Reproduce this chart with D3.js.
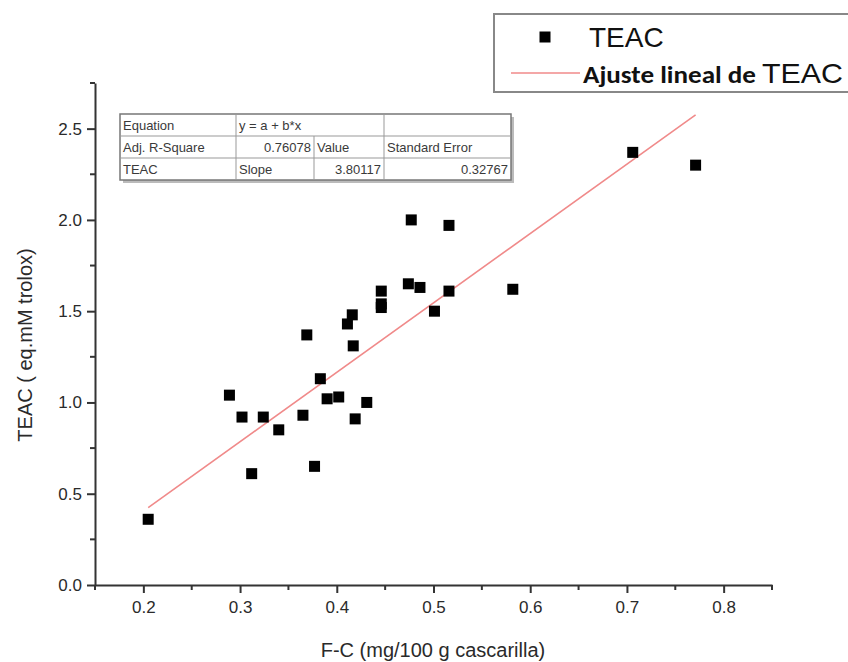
<!DOCTYPE html>
<html>
<head>
<meta charset="utf-8">
<script src="https://cdn.jsdelivr.net/npm/d3@7"></script>
<style>
  body { margin: 0; background: #fff; }
  text { font-family: Arial, "Liberation Sans", sans-serif; }
</style>
</head>
<body>
<div id="chart"></div>
<script>
// Data - - - - - - - - - - - - - - - - - - - - -
var fcValues = [0.205, 0.289, 0.302, 0.312, 0.324, 0.340, 0.365, 0.369, 0.377, 0.383,
                0.390, 0.402, 0.411, 0.416, 0.417, 0.419, 0.431, 0.446, 0.446, 0.446,
                0.474, 0.477, 0.486, 0.501, 0.516, 0.516, 0.582, 0.706, 0.771]
var teacValues = [0.36, 1.04, 0.92, 0.61, 0.92, 0.85, 0.93, 1.37, 0.65, 1.13,
                  1.02, 1.03, 1.43, 1.48, 1.31, 0.91, 1.00, 1.61, 1.54, 1.52,
                  1.65, 2.00, 1.63, 1.50, 1.97, 1.61, 1.62, 2.37, 2.30]
var fitIntercept = -0.355
  , fitSlope = 3.80117
var xTicks = [0.2, 0.3, 0.4, 0.5, 0.6, 0.7, 0.8]
var yTicks = [0.0, 0.5, 1.0, 1.5, 2.0, 2.5]
var tableRows = [
  ["Equation", "y = a + b*x", "", ""],
  ["Adj. R-Square", "0.76078", "Value", "Standard Error"],
  ["TEAC", "Slope", "3.80117", "0.32767"]
]

// Canvas - - - - - - - - - - - - - - - - - - - - - - - - - - - - - - -
var svgWidth = 848
  , svgHeight = 662
  , plot = {left: 95, right: 772, top: 83, bottom: 585}
  , symbolSize = 11

var svg = d3.select("#chart").append("svg")
    .attr("width", svgWidth)
    .attr("height", svgHeight)

var x = d3.scaleLinear().domain([0.15, 0.85]).range([plot.left, plot.right])
var y = d3.scaleLinear().domain([0, 2.75]).range([plot.bottom, plot.top])

var axisColor = "#333"
  , textColor = "#2a2a2a"

// Axes with major + minor ticks
var xMinor = d3.range(0.15, 0.851, 0.05).filter(v => Math.abs(v * 10 - Math.round(v * 10)) > 0.01)
var yMinor = d3.range(0.25, 2.76, 0.5)

var xAxis = svg.append("g")
    .attr("transform", "translate(0," + plot.bottom + ")")
    .call(d3.axisBottom(x).tickValues(xTicks).tickFormat(d3.format(".1f")).tickSize(8).tickSizeOuter(0).tickPadding(8))
xAxis.selectAll("g.minor")
    .data(xMinor).enter()
    .append("line")
      .attr("x1", d => x(d)).attr("x2", d => x(d))
      .attr("y1", 0).attr("y2", 5)

var yAxis = svg.append("g")
    .attr("transform", "translate(" + plot.left + ",0)")
    .call(d3.axisLeft(y).tickValues(yTicks).tickFormat(d3.format(".1f")).tickSize(8).tickSizeOuter(0).tickPadding(5))
yAxis.selectAll("g.minor")
    .data(yMinor).enter()
    .append("line")
      .attr("y1", d => y(d)).attr("y2", d => y(d))
      .attr("x1", 0).attr("x2", -5)

svg.selectAll(".domain, line")
    .attr("stroke", axisColor)
    .attr("stroke-width", 2)
svg.selectAll(".tick text")
    .attr("fill", textColor)
    .style("font-size", "17px")

// Axis titles
svg.append("text")
    .attr("x", 433).attr("y", 657)
    .attr("text-anchor", "middle")
    .attr("fill", textColor)
    .style("font-size", "20px")
    .text("F-C (mg/100 g cascarilla)")

svg.append("text")
    .attr("transform", "translate(32,345) rotate(-90)")
    .attr("text-anchor", "middle")
    .attr("fill", textColor)
    .style("font-size", "20px")
    .text("TEAC ( eq.mM trolox)")

// Fit line across data range
var xExt = d3.extent(fcValues)
svg.append("line")
    .attr("x1", x(xExt[0])).attr("y1", y(fitIntercept + fitSlope * xExt[0]))
    .attr("x2", x(xExt[1])).attr("y2", y(fitIntercept + fitSlope * xExt[1]))
    .attr("stroke", "#f08a8a")
    .attr("stroke-width", 1.6)

// Points
svg.append("g").selectAll("rect")
    .data(fcValues).enter()
    .append("rect")
      .attr("x", (d, i) => x(d) - symbolSize / 2)
      .attr("y", (d, i) => y(teacValues[i]) - symbolSize / 2)
      .attr("width", symbolSize)
      .attr("height", symbolSize)
      .attr("fill", "#000")

// Equation table
var tbl = {left: 120, top: 114, rowH: 22, cols: [120, 236, 314, 384, 511]}
var table = svg.append("g")
table.append("rect")
    .attr("x", tbl.left + 3).attr("y", tbl.top + 3)
    .attr("width", tbl.cols[4] - tbl.left).attr("height", tbl.rowH * 3)
    .attr("fill", "#bbb")
table.append("rect")
    .attr("x", tbl.left).attr("y", tbl.top)
    .attr("width", tbl.cols[4] - tbl.left).attr("height", tbl.rowH * 3)
    .attr("fill", "#fff")
    .attr("stroke", "#777")
    .attr("stroke-width", 1.5)
for (var r = 1; r < 3; r++) {
  table.append("line")
      .attr("x1", tbl.left).attr("x2", tbl.cols[4])
      .attr("y1", tbl.top + r * tbl.rowH).attr("y2", tbl.top + r * tbl.rowH)
      .attr("stroke", "#999").attr("stroke-width", 1)
}
table.append("line")
    .attr("x1", tbl.cols[1]).attr("x2", tbl.cols[1])
    .attr("y1", tbl.top).attr("y2", tbl.top + 3 * tbl.rowH)
    .attr("stroke", "#999")
table.append("line")
    .attr("x1", tbl.cols[2]).attr("x2", tbl.cols[2])
    .attr("y1", tbl.top + tbl.rowH).attr("y2", tbl.top + 3 * tbl.rowH)
    .attr("stroke", "#999")
table.append("line")
    .attr("x1", tbl.cols[3]).attr("x2", tbl.cols[3])
    .attr("y1", tbl.top).attr("y2", tbl.top + 3 * tbl.rowH)
    .attr("stroke", "#999")

// cell alignment: numbers right aligned
var rightCells = {"1,1": true, "2,2": true, "2,3": true}
tableRows.forEach(function(row, ri) {
  row.forEach(function(cell, ci) {
    if (!cell) return
    var right = rightCells[ri + "," + ci]
    table.append("text")
        .attr("x", right ? tbl.cols[ci + 1] - 3 : tbl.cols[ci] + 3)
        .attr("y", tbl.top + ri * tbl.rowH + 15.5)
        .attr("text-anchor", right ? "end" : "start")
        .attr("fill", "#3a3a3a")
        .style("font-size", "13px")
        .text(cell)
  })
})

// Legend
var legend = svg.append("g")
legend.append("rect")
    .attr("x", 494).attr("y", 14)
    .attr("width", 360).attr("height", 78)
    .attr("fill", "#fff")
    .attr("stroke", "#888")
    .attr("stroke-width", 2)
legend.append("rect")
    .attr("x", 545 - symbolSize / 2).attr("y", 37 - symbolSize / 2)
    .attr("width", symbolSize).attr("height", symbolSize)
    .attr("fill", "#000")
legend.append("text")
    .attr("x", 589).attr("y", 47)
    .attr("fill", "#111")
    .style("font-size", "28px")
    .text("TEAC")
legend.append("line")
    .attr("x1", 511).attr("x2", 580)
    .attr("y1", 73).attr("y2", 73)
    .attr("stroke", "#f08a8a").attr("stroke-width", 1.6)
var lt = legend.append("text")
    .attr("x", 583).attr("y", 83)
    .attr("fill", "#111")
    .attr("textLength", 260)
    .attr("lengthAdjust", "spacingAndGlyphs")
lt.append("tspan")
    .style("font-family", "Carlito, 'Open Sans', 'Liberation Sans', sans-serif")
    .style("font-size", "25px")
    .style("font-weight", "600")
    .text("Ajuste lineal de ")
lt.append("tspan")
    .style("font-size", "28px")
    .text("TEAC")
</script>
</body>
</html>
